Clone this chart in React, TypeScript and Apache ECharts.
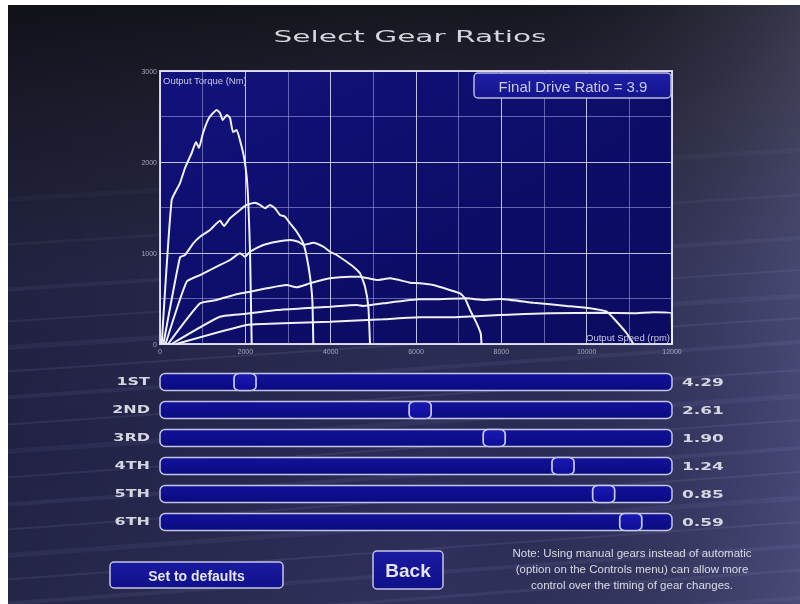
import React, { useEffect, useRef } from "react";
import * as echarts from "echarts";

// ---------- data ----------
const X_MAX = 12000;
const Y_MAX = 3000;
const FINAL_DRIVE = 3.9;
const GEARS = ["1ST", "2ND", "3RD", "4TH", "5TH", "6TH"];
const RATIOS = [4.29, 2.61, 1.9, 1.24, 0.85, 0.59];
const RATIO_LABELS = ["4.29", "2.61", "1.90", "1.24", "0.85", "0.59"];
const SLIDER_MIN = 0.3;
const SLIDER_MAX = 5.0;

const GEAR1 = [[40, 0], [274, 1583], [469, 1769], [586, 1934], [743, 2099], [844, 2220], [914, 2154], [1008, 2319], [1148, 2484], [1329, 2572], [1406, 2539], [1469, 2462], [1570, 2517], [1641, 2484], [1711, 2330], [1797, 2352], [1891, 2209], [1969, 2055], [2032, 1835], [2070, 1550], [2109, 1033], [2149, 0]];
const GEAR2 = [[80, 0], [469, 953], [586, 978], [781, 1107], [938, 1179], [1172, 1253], [1406, 1355], [1500, 1297], [1641, 1381], [1875, 1473], [2032, 1528], [2227, 1553], [2344, 1528], [2461, 1491], [2578, 1528], [2695, 1491], [2813, 1418], [2930, 1399], [3047, 1327], [3204, 1234], [3359, 1107], [3438, 959], [3516, 740], [3570, 484], [3594, 0]];
const GEAR3 = [[130, 0], [625, 685], [938, 758], [1329, 850], [1641, 923], [1875, 997], [1992, 959], [2109, 1014], [2422, 1088], [2734, 1124], [3047, 1143], [3242, 1124], [3359, 1088], [3594, 1113], [3828, 1069], [3984, 1014], [4141, 978], [4375, 904], [4531, 850], [4688, 777], [4805, 630], [4883, 410], [4922, 0]];
const GEAR4 = [[190, 0], [938, 447], [1329, 484], [1797, 546], [2109, 575], [2500, 612], [2969, 648], [3204, 623], [3516, 667], [3984, 722], [4453, 740], [4688, 740], [5078, 703], [5391, 722], [5859, 674], [6094, 667], [6406, 648], [6797, 593], [7031, 557], [7148, 502], [7266, 374], [7422, 227], [7516, 118], [7535, 0]];
const GEAR5 = [[270, 0], [1406, 300], [2109, 337], [2734, 374], [3359, 392], [3984, 410], [4609, 429], [4766, 418], [5234, 447], [6094, 491], [6406, 491], [7188, 502], [7578, 484], [7969, 495], [8750, 454], [9531, 418], [10078, 392], [10469, 355], [10703, 245], [10938, 118], [11094, 0]];
const GEAR6 = [[380, 0], [2032, 209], [2890, 227], [3984, 245], [5234, 271], [6094, 293], [6719, 293], [7969, 319], [9141, 337], [10313, 344], [11094, 337], [11563, 348], [11992, 337], [12000, 0]];
const CURVES = [GEAR1, GEAR2, GEAR3, GEAR4, GEAR5, GEAR6];

// ---------- layout ----------
const W = 800;
const H = 604;
const PLOT = { left: 160, top: 71, right: 672, bottom: 344 };
const SL_LEFT = 171;
const SL_RIGHT = 661;
const SL_TOP = 368;
const SL_ROW = 28;
const TRACK = { x0: 160, x1: 672, h: 17 };

// background streaks: [yLeft, yRight, width, opacity]
const STREAKS = [
  [200, 150, 5, 0.04], [245, 195, 3, 0.05], [290, 238, 4, 0.06], [322, 270, 2, 0.08],
  [348, 296, 5, 0.06], [372, 318, 2, 0.09], [398, 342, 4, 0.07], [425, 370, 2, 0.09],
  [452, 396, 5, 0.06], [478, 420, 2, 0.09], [505, 448, 4, 0.07], [530, 472, 2, 0.09],
  [556, 498, 5, 0.06], [580, 522, 2, 0.09], [604, 546, 4, 0.07], [630, 570, 3, 0.08],
  [655, 598, 4, 0.06],
];

const lin = (x0: number, y0: number, x1: number, y1: number, stops: [number, string][]) =>
  new echarts.graphic.LinearGradient(x0, y0, x1, y1, stops.map(([offset, color]) => ({ offset, color })));

const plain = (v: number) => String(v);

export default function App() {
  const ref = useRef<HTMLDivElement>(null);

  useEffect(() => {
    if (!ref.current) return;
    const chart = echarts.init(ref.current, undefined, { renderer: "svg" });

    const graphics: any[] = [];
    // page background
    graphics.push({
      type: "rect", z: -10, silent: true,
      shape: { x: 0, y: 0, width: W, height: H },
      style: { fill: lin(0, 0, 0, 1, [[0, "#16161e"], [0.18, "#222235"], [0.45, "#2c2d52"], [0.75, "#2b2c58"], [1, "#30325c"]]) },
    });
    graphics.push({
      type: "rect", z: -9, silent: true,
      shape: { x: 0, y: 0, width: W, height: H },
      style: { fill: lin(0, 0, 1, 0, [[0, "rgba(0,0,10,0.25)"], [0.55, "rgba(0,0,0,0)"], [1, "rgba(140,140,190,0.28)"]]) },
    });
    STREAKS.forEach(([y0, y1, w, o]) => {
      graphics.push({
        type: "line", z: -8, silent: true,
        shape: { x1: 0, y1: y0, x2: W, y2: y1 },
        style: { stroke: `rgba(185,185,235,${o})`, lineWidth: w, shadowBlur: 10, shadowColor: `rgba(185,185,235,${o * 2})` },
      });
    });
    // white margins of the screenshot
    graphics.push({ type: "rect", z: -7, silent: true, shape: { x: 0, y: 0, width: W, height: 5 }, style: { fill: "#ffffff" } });
    graphics.push({ type: "rect", z: -7, silent: true, shape: { x: 0, y: 0, width: 8, height: H }, style: { fill: "#ffffff" } });

    // title
    graphics.push({
      type: "text", z: 5, x: 410, y: 37, scaleX: 1.85,
      style: { text: "Select Gear Ratios", fill: "#d4d4dc", font: "16px 'DejaVu Sans'", align: "center", verticalAlign: "middle" },
    });

    // chart inner labels
    graphics.push({
      type: "text", z: 5, x: 163, y: 80,
      style: { text: "Output Torque (Nm)", fill: "#c8c8e4", font: "9.5px 'Liberation Sans'", align: "left", verticalAlign: "middle" },
    });
    graphics.push({
      type: "text", z: 5, x: 670, y: 337,
      style: { text: "Output Speed (rpm)", fill: "#c8c8e4", font: "9.5px 'Liberation Sans'", align: "right", verticalAlign: "middle" },
    });
    // final drive box
    graphics.push({
      type: "rect", z: 5,
      shape: { x: 474, y: 73, width: 197, height: 25, r: 4 },
      style: { fill: lin(0, 0, 0, 1, [[0, "#1e1ea6"], [1, "#14148c"]]), stroke: "#b8b8e0", lineWidth: 1.5 },
    });
    graphics.push({
      type: "text", z: 6, x: 573, y: 86,
      style: { text: `Final Drive Ratio = ${FINAL_DRIVE}`, fill: "#c8c8e6", font: "15px 'Liberation Sans'", align: "center", verticalAlign: "middle" },
    });

    // slider tracks and labels
    GEARS.forEach((g, i) => {
      const cy = SL_TOP + (i + 0.5) * SL_ROW;
      graphics.push({
        type: "rect", z: 1,
        shape: { x: TRACK.x0, y: cy - TRACK.h / 2, width: TRACK.x1 - TRACK.x0, height: TRACK.h, r: 5 },
        style: { fill: lin(0, 0, 0, 1, [[0, "#12129a"], [1, "#0a0a80"]]), stroke: "#c4c4e6", lineWidth: 1.5 },
      });
      graphics.push({
        type: "text", z: 5, x: 150, y: cy, scaleX: 1.6,
        style: { text: g, fill: "#d6d6e0", font: "bold 10px 'DejaVu Sans'", align: "right", verticalAlign: "middle" },
      });
      graphics.push({
        type: "text", z: 5, x: 682, y: cy, scaleX: 1.7,
        style: { text: RATIO_LABELS[i], fill: "#d6d6e0", font: "bold 10px 'DejaVu Sans'", align: "left", verticalAlign: "middle" },
      });
    });

    // buttons
    graphics.push({
      type: "rect", z: 5,
      shape: { x: 110, y: 562, width: 173, height: 26, r: 4 },
      style: { fill: lin(0, 0, 0, 1, [[0, "#1a1aa0"], [1, "#10108a"]]), stroke: "#c4c4e6", lineWidth: 1.5 },
    });
    graphics.push({
      type: "text", z: 6, x: 196.5, y: 575.5,
      style: { text: "Set to defaults", fill: "#e4e4f2", font: "bold 14px 'Liberation Sans'", align: "center", verticalAlign: "middle" },
    });
    graphics.push({
      type: "rect", z: 5,
      shape: { x: 373, y: 551, width: 70, height: 38, r: 4 },
      style: { fill: lin(0, 0, 0, 1, [[0, "#1a1aa0"], [1, "#10108a"]]), stroke: "#c4c4e6", lineWidth: 1.5 },
    });
    graphics.push({
      type: "text", z: 6, x: 408, y: 570.5,
      style: { text: "Back", fill: "#e4e4f2", font: "bold 19px 'Liberation Sans'", align: "center", verticalAlign: "middle" },
    });
    [
      "Note: Using manual gears instead of automatic",
      "(option on the Controls menu) can allow more",
      "control over the timing of gear changes.",
    ].forEach((t, i) => {
      graphics.push({
        type: "text", z: 6, x: 632, y: 553 + i * 16,
        style: { text: t, fill: "#dadae6", font: "11.5px 'Liberation Sans'", align: "center", verticalAlign: "middle" },
      });
    });

    const option: any = {
      animation: false,
      graphic: { elements: graphics },
      grid: [
        {
          left: PLOT.left, top: PLOT.top, width: PLOT.right - PLOT.left, height: PLOT.bottom - PLOT.top,
          show: true, borderColor: "#d2d2e4", borderWidth: 2,
          backgroundColor: lin(0, 0, 1, 1, [[0, "#12127c"], [0.5, "#0d0d6a"], [1, "#0b0b60"]]),
        },
        { left: SL_LEFT, top: SL_TOP, width: SL_RIGHT - SL_LEFT, height: SL_ROW * GEARS.length, show: false },
      ],
      xAxis: [
        {
          type: "value", gridIndex: 0, min: 0, max: X_MAX, interval: 2000,
          axisLine: { show: false }, axisTick: { show: false },
          axisLabel: { color: "#a4a4bc", fontSize: 7, margin: 4, fontFamily: "Liberation Sans", formatter: plain },
          splitLine: { show: true, lineStyle: { color: "rgba(225,225,245,0.85)", width: 1 } },
          minorTick: { show: false, splitNumber: 2 },
          minorSplitLine: { show: true, lineStyle: { color: "rgba(170,170,225,0.55)", width: 1 } },
        },
        { type: "value", gridIndex: 1, min: SLIDER_MIN, max: SLIDER_MAX, inverse: true, show: false },
      ],
      yAxis: [
        {
          type: "value", gridIndex: 0, min: 0, max: Y_MAX, interval: 1000,
          axisLine: { show: false }, axisTick: { show: false },
          axisLabel: { color: "#a4a4bc", fontSize: 7, margin: 3, fontFamily: "Liberation Sans", formatter: plain },
          splitLine: { show: true, lineStyle: { color: "rgba(225,225,245,0.85)", width: 1 } },
          minorTick: { show: false, splitNumber: 2 },
          minorSplitLine: { show: true, lineStyle: { color: "rgba(170,170,225,0.55)", width: 1 } },
        },
        { type: "category", gridIndex: 1, data: GEARS, inverse: true, show: false },
      ],
      series: [
        ...CURVES.map((d, i) => ({
          name: GEARS[i], type: "line", xAxisIndex: 0, yAxisIndex: 0, data: d,
          showSymbol: false, smooth: 0.15, silent: true,
          lineStyle: { color: "#f0f0f8", width: 2 },
        })),
        {
          name: "ratios", type: "scatter", xAxisIndex: 1, yAxisIndex: 1,
          data: RATIOS.map((r, i) => [r, GEARS[i]]),
          symbol: "roundRect", symbolSize: [22, 17], z: 5,
          itemStyle: { color: lin(0, 0, 0, 1, [[0, "#1a1ab4"], [1, "#0c0c96"]]), borderColor: "#c8c8ec", borderWidth: 1.5, opacity: 1 },
        },
      ],
    };
    chart.setOption(option);
    return () => chart.dispose();
  }, []);

  return <div ref={ref} style={{ position: "fixed", left: 0, top: 0, width: W, height: H }} />;
}
